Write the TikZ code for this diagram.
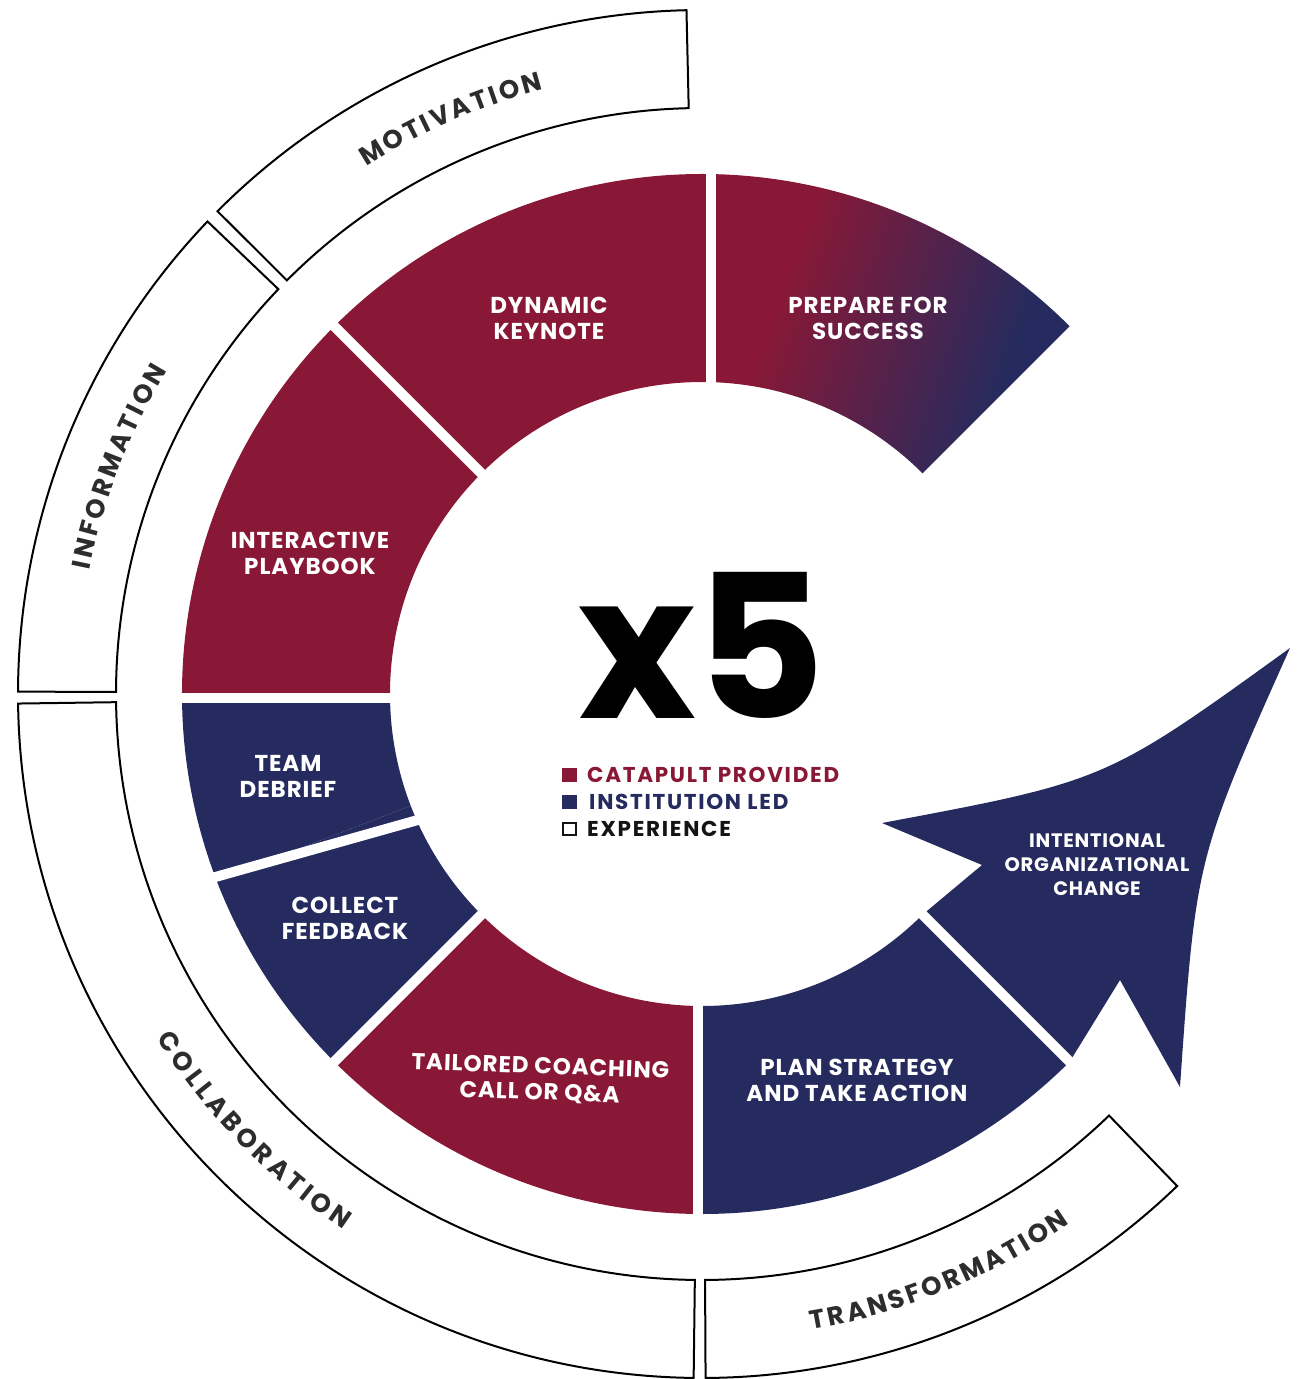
\documentclass[tikz,border=0pt]{standalone}
\usepackage{fontspec}
\setmainfont{Poppins}
\newfontfamily\bandfam{Poppins}[LetterSpace=6]
\newfontfamily\lblfam{Poppins}[LetterSpace=4]
\newfontfamily\legfam{Poppins}[LetterSpace=8]
\usetikzlibrary{decorations.text}
\definecolor{crim}{RGB}{137,24,54}
\definecolor{navy}{RGB}{37,43,94}
\definecolor{bandgray}{RGB}{45,45,45}
\definecolor{inkblack}{RGB}{20,20,20}
\pgfdeclarehorizontalshading{prepgrad}{100bp}{color(0bp)=(crim); color(34bp)=(crim); color(69bp)=(navy); color(100bp)=(navy)}
\newcommand\bandtxt{\bandfam\fontsize{26}{26}\selectfont\bfseries}
\begin{document}
\begin{tikzpicture}[x=1pt,y=1pt,
  lbl/.style={text=white,font=\lblfam\fontsize{23}{26}\selectfont\bfseries,align=center,inner sep=0pt},
  bandseg/.style={draw=black,line width=2pt,fill=white,line join=miter},
  gapline/.style={white,line width=10pt},
  legtxt/.style={anchor=base west,font=\legfam\fontsize{21.5}{21.5}\selectfont\bfseries,inner sep=0pt}]
\useasboundingbox (-702,-685) rectangle (594,694);
% ---------- outer band ----------
\path[bandseg] (91.3:684pt) arc[start angle=91.3,end angle=135.1,radius=684pt] -- (135.1:586pt) arc[start angle=135.1,end angle=91.3,radius=586pt] -- cycle;
\path[bandseg] (136.3:684pt) arc[start angle=136.3,end angle=179.8,radius=684pt] -- (179.8:586pt) arc[start angle=179.8,end angle=136.3,radius=586pt] -- cycle;
\path[bandseg] (180.8:684pt) arc[start angle=180.8,end angle=269.3,radius=684pt] -- (269.3:586pt) arc[start angle=269.3,end angle=180.8,radius=586pt] -- cycle;
\path[bandseg] (270.3:684pt) arc[start angle=270.3,end angle=314.0,radius=684pt] -- (314.0:586pt) arc[start angle=314.0,end angle=270.3,radius=586pt] -- cycle;
% band labels
\path[decorate,decoration={text along path,text={|\bandtxt|MOTIVATION},text align=fit to path,text color=bandgray}]
  (122.5:625pt) arc[start angle=122.5,end angle=104.7,radius=625pt];
\path[decorate,decoration={text along path,text={|\bandtxt|INFORMATION},text align=fit to path,text color=bandgray}]
  (168.6:625pt) arc[start angle=168.6,end angle=148.8,radius=625pt];
\path[decorate,decoration={text along path,text={|\bandtxt|COLLABORATION},text align=fit to path,text color=bandgray}]
  (212.3:645pt) arc[start angle=212.3,end angle=236.2,radius=645pt];
\path[decorate,decoration={text along path,text={|\bandtxt|TRANSFORMATION},text align=fit to path,text color=bandgray}]
  (279.8:645pt) arc[start angle=279.8,end angle=304.8,radius=645pt];
% ---------- inner ring ----------
\shade[shading=prepgrad,shading angle=-20] (45:520pt) arc[start angle=45,end angle=90,radius=520pt] -- (90:312pt) arc[start angle=90,end angle=45,radius=312pt] -- cycle;
\fill[crim] (90:520pt) arc[start angle=90,end angle=135,radius=520pt] -- (135:312pt) arc[start angle=135,end angle=90,radius=312pt] -- cycle;
\fill[crim] (135:520pt) arc[start angle=135,end angle=180,radius=520pt] -- (180:312pt) arc[start angle=180,end angle=135,radius=312pt] -- cycle;
\fill[navy] (180:520pt) arc[start angle=180,end angle=201,radius=520pt] -- (201:312pt) arc[start angle=201,end angle=180,radius=312pt] -- cycle;
\fill[navy] (201:520pt) arc[start angle=201,end angle=225,radius=520pt] -- (225:312pt) arc[start angle=225,end angle=201,radius=312pt] -- cycle;
\fill[crim] (225:520pt) arc[start angle=225,end angle=270,radius=520pt] -- (270:312pt) arc[start angle=270,end angle=225,radius=312pt] -- cycle;
\fill[navy] (270:520pt) arc[start angle=270,end angle=315,radius=520pt] -- (315:312pt) arc[start angle=315,end angle=270,radius=312pt] -- cycle;
% arrow segment
\coordinate (a0) at (-45:312pt);
\coordinate (a1) at (280,-171);
\coordinate (a2) at (180,-129);
\coordinate (a3) at (588,46);
\coordinate (a4) at (478,-393);
\coordinate (a5) at (418,-286);
\coordinate (a6) at (-45:520pt);
\fill[navy] (a0) -- (a1) -- (a2) .. controls (404,-87) .. (a3) .. controls (494,-164) .. (a4) -- (a5) -- (a6) -- cycle;
% gaps
\draw[gapline] (9.5,300) -- (9.5,532);
\draw[gapline] (-4,-300) -- (-4,-532);
\draw[gapline] (-300,-3.5) -- (-532,-3.5);
\draw[gapline] (135:300pt) -- (135:532pt);
\draw[gapline] (-511.4,-190) -- (-269.6,-121.9);
\draw[gapline] (225:300pt) -- (225:532pt);
\draw[gapline] (-45:300pt) -- (-45:532pt);
% ---------- labels ----------
\node[lbl] (dyn) at (-153,376) {DYNAMIC\\KEYNOTE};
\node[lbl] (prep) at (166,376) {PREPARE FOR\\SUCCESS};
\node[lbl] (inter) at (-392,141) {INTERACTIVE\\PLAYBOOK};
\node[lbl] (team) at (-414,-82) {TEAM\\DEBRIEF};
\node[lbl] (coll) at (-357,-224) {COLLECT\\FEEDBACK};
\node[lbl,rotate=-2] (tail) at (-162,-386) {TAILORED COACHING\\CALL OR Q\&A};
\node[lbl] (plan) at (155,-386) {PLAN STRATEGY\\AND TAKE ACTION};
\node[lbl,font=\lblfam\fontsize{19.5}{24}\selectfont\bfseries] (intent) at (395,-171) {INTENTIONAL\\ORGANIZATIONAL\\CHANGE};
% ---------- centre ----------
\node[anchor=base,inner sep=0pt,font=\fontsize{200}{200}\selectfont\bfseries,text=black] (xfive) at (0,-24) {x5};
\fill[crim] (-140,-74) rectangle (-125,-88);
\fill[navy] (-140,-101) rectangle (-125,-115);
\draw[line width=1.5pt,fill=white,draw=inkblack] (-139.2,-128.8) rectangle (-125.8,-141.2);
\node[legtxt,text=crim] (leg1) at (-115,-88) {CATAPULT PROVIDED};
\node[legtxt,text=navy] (leg2) at (-113,-115) {INSTITUTION LED};
\node[legtxt,text=inkblack] (leg3) at (-115,-142) {EXPERIENCE};
\end{tikzpicture}
\end{document}
